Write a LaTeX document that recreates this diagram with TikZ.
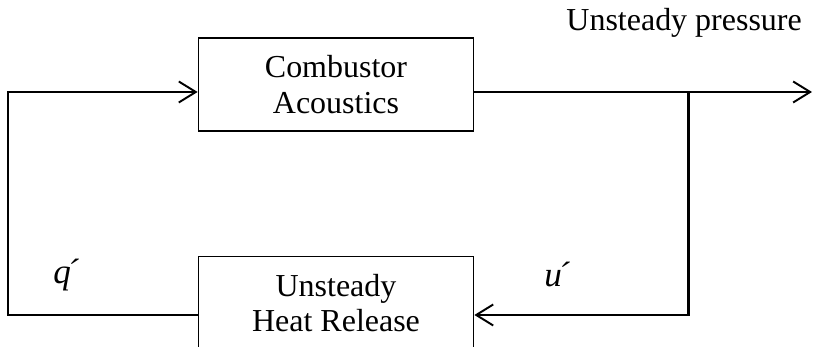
\documentclass[tikz,border=0pt]{standalone}
\usepackage{fontspec}
\setmainfont{Liberation Serif}
\usepackage{tikz}
\usetikzlibrary{positioning,calc,arrows.meta}

\begin{document}
\begin{tikzpicture}[
		blk/.style={draw, line width=0.7pt, minimum width=5.51cm, minimum height=1.86cm, align=center, font=\fontsize{18.2}{20.4}\selectfont},
		sig/.style={line width=1.2pt, -{Straight Barb[length=0.34cm, width=0.42cm, line width=1.1pt]}},
		lbl/.style={font=\fontsize{20}{22}\selectfont\itshape}
		]
		\clip (0,0) rectangle (16.3,6.94);
		
		% ===== hai khối =====
		\node[blk] (acou) at (6.72,5.25) {Combustor\\Acoustics};
		\node[blk] (heat) at (6.72,0.88) {Unsteady\\Heat Release};
		
		% ===== điểm rẽ nhánh =====
		\coordinate (tap) at (13.77,5.1);
		\coordinate (out) at (16.24,5.1);
		\coordinate (lft) at (0.16,0.64);
		
		% ===== đường tín hiệu =====
		\draw[sig] (acou.east |- tap) -- (out);
		\draw[sig] (tap) |- (heat.east |- lft);
		\draw[sig] (heat.west |- lft) -- (lft) |- (acou.west |- tap);
		
		% ===== nhãn =====
		\node[font=\fontsize{18.2}{20.4}\selectfont, anchor=east] (press) at (16.16,6.48) {Unsteady pressure};
		\node[lbl] (qp) at (1.32,1.44) {q\kern-0.12em´};
		\node[lbl] (up) at (11.14,1.44) {u\kern-0.12em´};
		
	\end{tikzpicture}
\end{document}
